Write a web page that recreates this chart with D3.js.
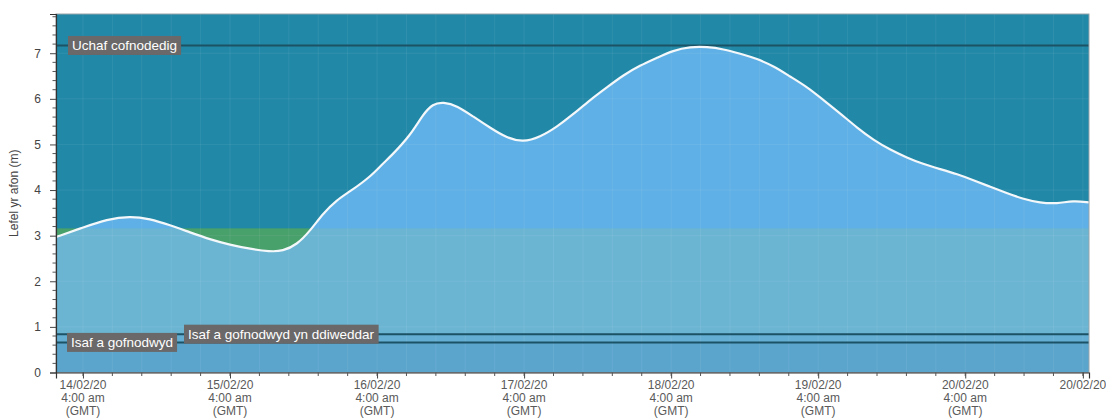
<!DOCTYPE html>
<html>
<head>
<meta charset="utf-8">
<script src="https://cdn.jsdelivr.net/npm/d3@7"></script>
<style>
  html, body { margin: 0; padding: 0; background: #ffffff; }
  svg { display: block; font-family: "Liberation Sans", Arial, sans-serif; }
</style>
</head>
<body>
<svg id="chart" width="1106" height="418"></svg>
<script>
// ---- Data (hours since 14/02/20 00:00 GMT) ----
const hours = [-0.4, 4.0, 7.9, 11.7, 14.9, 18.2, 21.5, 24.7, 28.0, 31.3, 34.5, 36.6, 38.9, 41.1, 43.2, 45.4, 47.6, 50.9, 53.0, 54.1,
  57.4, 59.5, 61.1, 62.8, 65.1, 67.7, 70.5, 73.2, 75.8, 78.6, 81.4, 84.0, 86.8, 89.6, 92.2, 94.9, 97.7, 100.3, 103.1, 105.9,
  108.5, 111.3, 114.0, 116.7, 119.4, 122.2, 124.8, 127.6, 130.4, 133.0, 135.8, 138.5, 141.1, 143.9, 146.7, 149.3, 152.1, 154.9,
  157.5, 160.2, 163.0, 165.6, 168.2];
const levels = [2.97, 3.18, 3.36, 3.43, 3.37, 3.23, 3.07, 2.92, 2.80, 2.71, 2.65, 2.66, 2.80, 3.11, 3.49, 3.78, 3.97, 4.29, 4.59, 4.72,
  5.19, 5.66, 5.89, 5.93, 5.85, 5.61, 5.36, 5.14, 5.05, 5.16, 5.39, 5.66, 5.98, 6.26, 6.52, 6.73, 6.90, 7.06, 7.14, 7.14,
  7.09, 6.99, 6.88, 6.72, 6.49, 6.26, 5.98, 5.68, 5.36, 5.10, 4.88, 4.71, 4.57, 4.46, 4.35, 4.22, 4.07, 3.93,
  3.80, 3.72, 3.70, 3.77, 3.73];

const typicalHigh = 3.16;          // top of normal range band
const refValues = [7.17, 0.84, 0.66];
const refLabels = ["Uchaf cofnodedig", "Isaf a gofnodwyd yn ddiweddar", "Isaf a gofnodwyd"];

const yTicks = [0, 1, 2, 3, 4, 5, 6, 7];
const xTickHours = [4, 28, 52, 76, 100, 124, 148, 167.2];
const xTickDates = ["14/02/20", "15/02/20", "16/02/20", "17/02/20", "18/02/20", "19/02/20", "20/02/20", "20/02/20"];
const xTickTimes = ["4:00 am", "4:00 am", "4:00 am", "4:00 am", "4:00 am", "4:00 am", "4:00 am", ""];
const xTickZones = ["(GMT)", "(GMT)", "(GMT)", "(GMT)", "(GMT)", "(GMT)", "(GMT)", ""];
const yTitle = "Lefel yr afon (m)";

// ---- Layout ----
const base = Date.UTC(2020, 1, 14, 0, 0);
const toDate = h => new Date(base + h * 3600e3);
const L = 56, R = 1089, T = 14, B = 372.5;

const x = d3.scaleTime().domain([toDate(-0.4), toDate(168.2)]).range([L, R]);
const y = d3.scaleLinear().domain([0, 7.86]).range([B, T]);

const data = hours.map((h, i) => ({ t: toDate(h), v: levels[i] }));
const svg = d3.select("#chart");
const defs = svg.append("defs");

defs.append("clipPath").attr("id", "plotClip")
  .append("rect").attr("x", L).attr("y", T).attr("width", R - L).attr("height", B - T);

const curve = d3.curveBasis;
const area = d3.area().x(d => x(d.t)).y0(y(0)).y1(d => y(d.v)).curve(curve);
const line = d3.line().x(d => x(d.t)).y(d => y(d.v)).curve(curve);

defs.append("clipPath").attr("id", "areaClip").append("path").attr("d", area(data));

const g = svg.append("g").attr("clip-path", "url(#plotClip)");

// background
g.append("rect").attr("x", L).attr("y", T).attr("width", R - L).attr("height", B - T).attr("fill", "#2188a7");
// green band (visible above the line, below normal range top)
g.append("rect").attr("x", L).attr("y", y(typicalHigh)).attr("width", R - L).attr("height", y(0) - y(typicalHigh)).attr("fill", "#48a06b");
// area fill
g.append("path").attr("d", area(data)).attr("fill", "#5fb0e6");
// normal band under line
const under = g.append("g").attr("clip-path", "url(#areaClip)");
under.append("rect").attr("x", L).attr("y", y(typicalHigh)).attr("width", R - L).attr("height", y(0) - y(typicalHigh)).attr("fill", "#6bb5d3");
under.append("rect").attr("x", L).attr("y", y(refValues[1])).attr("width", R - L).attr("height", y(refValues[2]) - y(refValues[1])).attr("fill", "#64aed3");
under.append("rect").attr("x", L).attr("y", y(refValues[2])).attr("width", R - L).attr("height", y(0) - y(refValues[2])).attr("fill", "#5ba5cd");

// grid
const minorHours = d3.range(4, 168.2, 4.8);
g.append("g").selectAll("line").data(minorHours).join("line")
  .attr("x1", d => x(toDate(d))).attr("x2", d => x(toDate(d)))
  .attr("y1", T).attr("y2", B)
  .attr("stroke", "#ffffff").attr("stroke-opacity", 0.07).attr("stroke-width", 1);
g.append("g").selectAll("line").data(yTicks.slice(1)).join("line")
  .attr("x1", L).attr("x2", R).attr("y1", d => y(d)).attr("y2", d => y(d))
  .attr("stroke", "#ffffff").attr("stroke-opacity", 0.07).attr("stroke-width", 1);

// reference lines
g.append("g").selectAll("line").data(refValues).join("line")
  .attr("x1", L).attr("x2", R).attr("y1", d => y(d)).attr("y2", d => y(d))
  .attr("stroke", "#1c5265").attr("stroke-width", 2);

// level line
g.append("path").attr("d", line(data)).attr("fill", "none")
  .attr("stroke", "#f4f8fa").attr("stroke-width", 2.2);

// plot border
svg.append("rect").attr("x", L).attr("y", T).attr("width", R - L).attr("height", B - T)
  .attr("fill", "none").attr("stroke", "#9aa4a8").attr("stroke-width", 1);

// ---- Y axis ----
const yAxis = svg.append("g").attr("transform", `translate(${L},0)`)
  .call(d3.axisLeft(y).tickValues(yTicks).tickSize(6).tickPadding(9).tickFormat(d3.format("d")));
yAxis.select(".domain").attr("stroke", "#333").attr("stroke-width", 1.2);
yAxis.selectAll(".tick line").attr("stroke", "#444");
yAxis.selectAll("text").attr("fill", "#444").style("font-size", "12px");
const yMinor = d3.range(0, 7.86, 0.2).filter(v => Math.abs(v - Math.round(v)) > 0.01);
svg.append("g").selectAll("line").data(yMinor).join("line")
  .attr("x1", L - 3.5).attr("x2", L).attr("y1", d => y(d)).attr("y2", d => y(d))
  .attr("stroke", "#555").attr("stroke-width", 1);

svg.append("text").attr("transform", `translate(18,${(T + B) / 2}) rotate(-90)`)
  .attr("text-anchor", "middle").attr("fill", "#444").style("font-size", "12px").text(yTitle);

// ---- X axis ----
const xAxis = svg.append("g").attr("transform", `translate(0,${B})`)
  .call(d3.axisBottom(x).tickValues(xTickHours.map(toDate)).tickSize(6).tickFormat(""));
xAxis.select(".domain").attr("stroke", "#333").attr("stroke-width", 1.2);
xAxis.selectAll(".tick line").attr("stroke", "#444");
svg.append("g").selectAll("line").data(minorHours).join("line")
  .attr("x1", d => x(toDate(d))).attr("x2", d => x(toDate(d)))
  .attr("y1", B).attr("y2", B + 3.5).attr("stroke", "#555").attr("stroke-width", 1);

const xl = svg.append("g").selectAll("text").data(xTickHours).join("text")
  .attr("text-anchor", "middle").attr("fill", "#5a5a5a").style("font-size", "12px")
  .attr("transform", d => `translate(${x(toDate(d))},${B + 16})`);
xl.append("tspan").attr("x", 0).attr("dy", 0).text((d, i) => xTickDates[i]);
xl.append("tspan").attr("x", 0).attr("dy", 13).text((d, i) => xTickTimes[i]);
xl.append("tspan").attr("x", 0).attr("dy", 13).text((d, i) => xTickZones[i]);

// ---- Reference labels ----
const labelX = [68, 184, 67];
refValues.forEach((v, i) => {
  const lg = svg.append("g");
  const t = lg.append("text").attr("x", labelX[i] + 4).attr("y", y(v) + 5)
    .attr("fill", "#ffffff").style("font-size", "13.5px").text(refLabels[i]);
  const bb = t.node().getBBox();
  lg.insert("rect", "text").attr("x", bb.x - 4).attr("y", y(v) - 9.5)
    .attr("width", bb.width + 8).attr("height", 19).attr("fill", "#6a6868");
});
</script>
</body>
</html>
